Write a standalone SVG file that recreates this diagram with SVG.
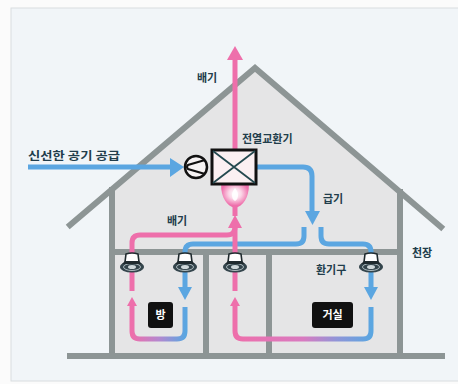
<svg xmlns="http://www.w3.org/2000/svg" width="458" height="384" viewBox="0 0 458 384">
  <style>
    .wall { stroke: #8d9595; stroke-width: 6; fill: none; stroke-linecap: square; }
    .supply { stroke: #5ba6e1; stroke-width: 5; fill: none; stroke-linecap: butt; }
    .exhaust { stroke: #ee6fab; stroke-width: 5; fill: none; stroke-linecap: butt; }
    .label { font-family: "Noto Sans CJK KR", "Noto Sans", sans-serif; font-size: 11px; font-weight: bold; fill: #213d4b; }
    .room { font-family: "Noto Sans CJK KR", "Noto Sans", sans-serif; font-size: 11px; font-weight: bold; fill: #ffffff; text-anchor: middle; }
  </style>
  <defs>
    <linearGradient id="returnRight" x1="235" y1="0" x2="371" y2="0" gradientUnits="userSpaceOnUse">
      <stop offset="0" stop-color="#ee6fab"/>
      <stop offset="0.5" stop-color="#d97ac0"/>
      <stop offset="0.75" stop-color="#8f95d8"/>
      <stop offset="1" stop-color="#5ba6e1"/>
    </linearGradient>
    <linearGradient id="returnLeft" x1="132" y1="0" x2="185" y2="0" gradientUnits="userSpaceOnUse">
      <stop offset="0" stop-color="#ee6fab"/>
      <stop offset="0.5" stop-color="#b587cf"/>
      <stop offset="1" stop-color="#5ba6e1"/>
    </linearGradient>
    <radialGradient id="bulbGlow" cx="0.5" cy="0.4" r="0.5">
      <stop offset="0" stop-color="#ffffff"/>
      <stop offset="0.45" stop-color="#fbd6e7"/>
      <stop offset="1" stop-color="#ee6fab"/>
    </radialGradient>
    <g id="diffuser">
      <path d="M-7,262 L-6,254 Q0,252 6,254 L7,262 Z" fill="#ffffff" stroke="#1f2a2e" stroke-width="1.6"/>
      <ellipse cx="0" cy="267" rx="12" ry="5.5" fill="#34454c"/>
      <ellipse cx="0" cy="267" rx="8.5" ry="3.5" fill="none" stroke="#aebbbf" stroke-width="1"/>
      <ellipse cx="0" cy="267" rx="4" ry="2" fill="#cfd8da"/>
      <path d="M-7,261 H7 L10,264 H-10 Z" fill="#1f2a2e"/>
    </g>
  </defs>

  <!-- page and panel -->
  <rect x="0" y="0" width="458" height="384" fill="#fbfbfb"/>
  <rect x="11" y="8" width="452" height="373" fill="#f1f5f8" stroke="#d9dde0" stroke-width="1"/>

  <!-- house -->
  <g id="house">
    <polygon points="112,189 255,68 400,192 400,356 112,356" fill="#e5e5e6"/>
    <polyline class="wall" points="70,225 255,68 441,227" stroke-linejoin="miter" stroke-linecap="butt"/>
    <line class="wall" x1="112" y1="190" x2="112" y2="356"/>
    <line class="wall" x1="400" y1="192" x2="400" y2="356"/>
    <line class="wall" x1="70" y1="356" x2="442" y2="356" stroke-linecap="butt"/>
    <line class="wall" x1="112" y1="252" x2="400" y2="252" stroke-width="5"/>
    <line class="wall" x1="206" y1="252" x2="206" y2="356" stroke-width="5"/>
    <line class="wall" x1="269" y1="252" x2="269" y2="356" stroke-width="5"/>
  </g>

  <!-- air flows -->
  <g id="connectors">
    <!-- fresh air intake -->
    <line class="supply" x1="28" y1="167" x2="172" y2="167"/>
    <polygon points="170,158 184,167 170,177" fill="#5ba6e1"/>

    <!-- exhaust out through the roof -->
    <line class="exhaust" x1="235" y1="58" x2="235" y2="150"/>
    <polygon points="227,60 235,46 243,60" fill="#ee6fab"/>

    <!-- supply from the exchanger down to the ceiling -->
    <path class="supply" d="M256,167 H303 Q312,167 312,176 V212"/>
    <polygon points="305,211 320,211 312.5,225" fill="#5ba6e1"/>
    <path class="supply" d="M304,227 V236 Q304,244 296,244 H193 Q185,244 185,252 V289"/>
    <polygon points="178,287 192,287 185,300" fill="#5ba6e1"/>
    <path class="supply" d="M321,227 V236 Q321,244 329,244 H363 Q371,244 371,252 V289"/>
    <polygon points="364,287 378,287 371,300" fill="#5ba6e1"/>

    <!-- room returns -->
    <path d="M185,307 V331 Q185,339 177,339 H140 Q132,339 132,331 V306" fill="none" stroke="url(#returnLeft)" stroke-width="5"/>
    <path d="M371,307 V331 Q371,339 363,339 H243 Q235,339 235,331 V306" fill="none" stroke="url(#returnRight)" stroke-width="5"/>
    <polygon points="127,306 132,297 137,306" fill="#ee6fab"/>
    <polygon points="230,306 235,297 240,306" fill="#ee6fab"/>

    <!-- exhaust collected back to the exchanger -->
    <path class="exhaust" d="M132,291 V243 Q132,235 140,235 H227 Q235,235 235,227"/>
    <line class="exhaust" x1="235" y1="291" x2="235" y2="224"/>
    <polygon points="228,228 235,215 242,228" fill="#ee6fab"/>
    <line class="exhaust" x1="235" y1="216" x2="235" y2="200"/>
  </g>

  <!-- heat recovery ventilator -->
  <g id="ventilator">
    <path d="M221,184 H249 C249,198 243,206 235,208 C227,206 221,198 221,184 Z" fill="url(#bulbGlow)"/>
    <path d="M235,188 C231,192 231,199 235,201 C239,199 239,192 235,188 Z" fill="#ffffff" opacity="0.9"/>
    <circle cx="196" cy="167" r="11" fill="#f6f3f4" stroke="#111111" stroke-width="2.5"/>
    <path d="M205,160 L188,165 Q186,167 188,169 L205,174" fill="none" stroke="#111111" stroke-width="2"/>
    <rect x="212" y="150" width="44" height="34" fill="#fbf0f2" stroke="#111111" stroke-width="3"/>
    <path d="M213,151 L255,183 M255,151 L213,183" stroke="#24494f" stroke-width="1.8"/>
  </g>

  <!-- ceiling vents -->
  <g id="vent-room-exhaust"><use href="#diffuser" x="132"/></g>
  <g id="vent-room-supply"><use href="#diffuser" x="185"/></g>
  <g id="vent-hall-exhaust"><use href="#diffuser" x="235"/></g>
  <g id="vent-living-supply"><use href="#diffuser" x="371"/></g>

  <!-- rooms -->
  <g id="room-bang">
    <rect x="148" y="302" width="25" height="26" rx="3" fill="#111111"/>
    <text class="room" x="160.5" y="319">방</text>
  </g>
  <g id="room-geosil">
    <rect x="312" y="302" width="41" height="26" rx="3" fill="#111111"/>
    <text class="room" x="332.5" y="319">거실</text>
  </g>

  <!-- labels -->
  <g id="labels">
    <text class="label" x="207" y="82" text-anchor="middle">배기</text>
    <text class="label" x="28" y="160" font-size="13.5" textLength="92" lengthAdjust="spacingAndGlyphs">신선한 공기 공급</text>
    <text class="label" x="242" y="143" font-size="12">전열교환기</text>
    <text class="label" x="323" y="203">급기</text>
    <text class="label" x="167" y="225">배기</text>
    <text class="label" x="316" y="274" font-size="11.5">환기구</text>
    <text class="label" x="412" y="257">천장</text>
  </g>
</svg>
